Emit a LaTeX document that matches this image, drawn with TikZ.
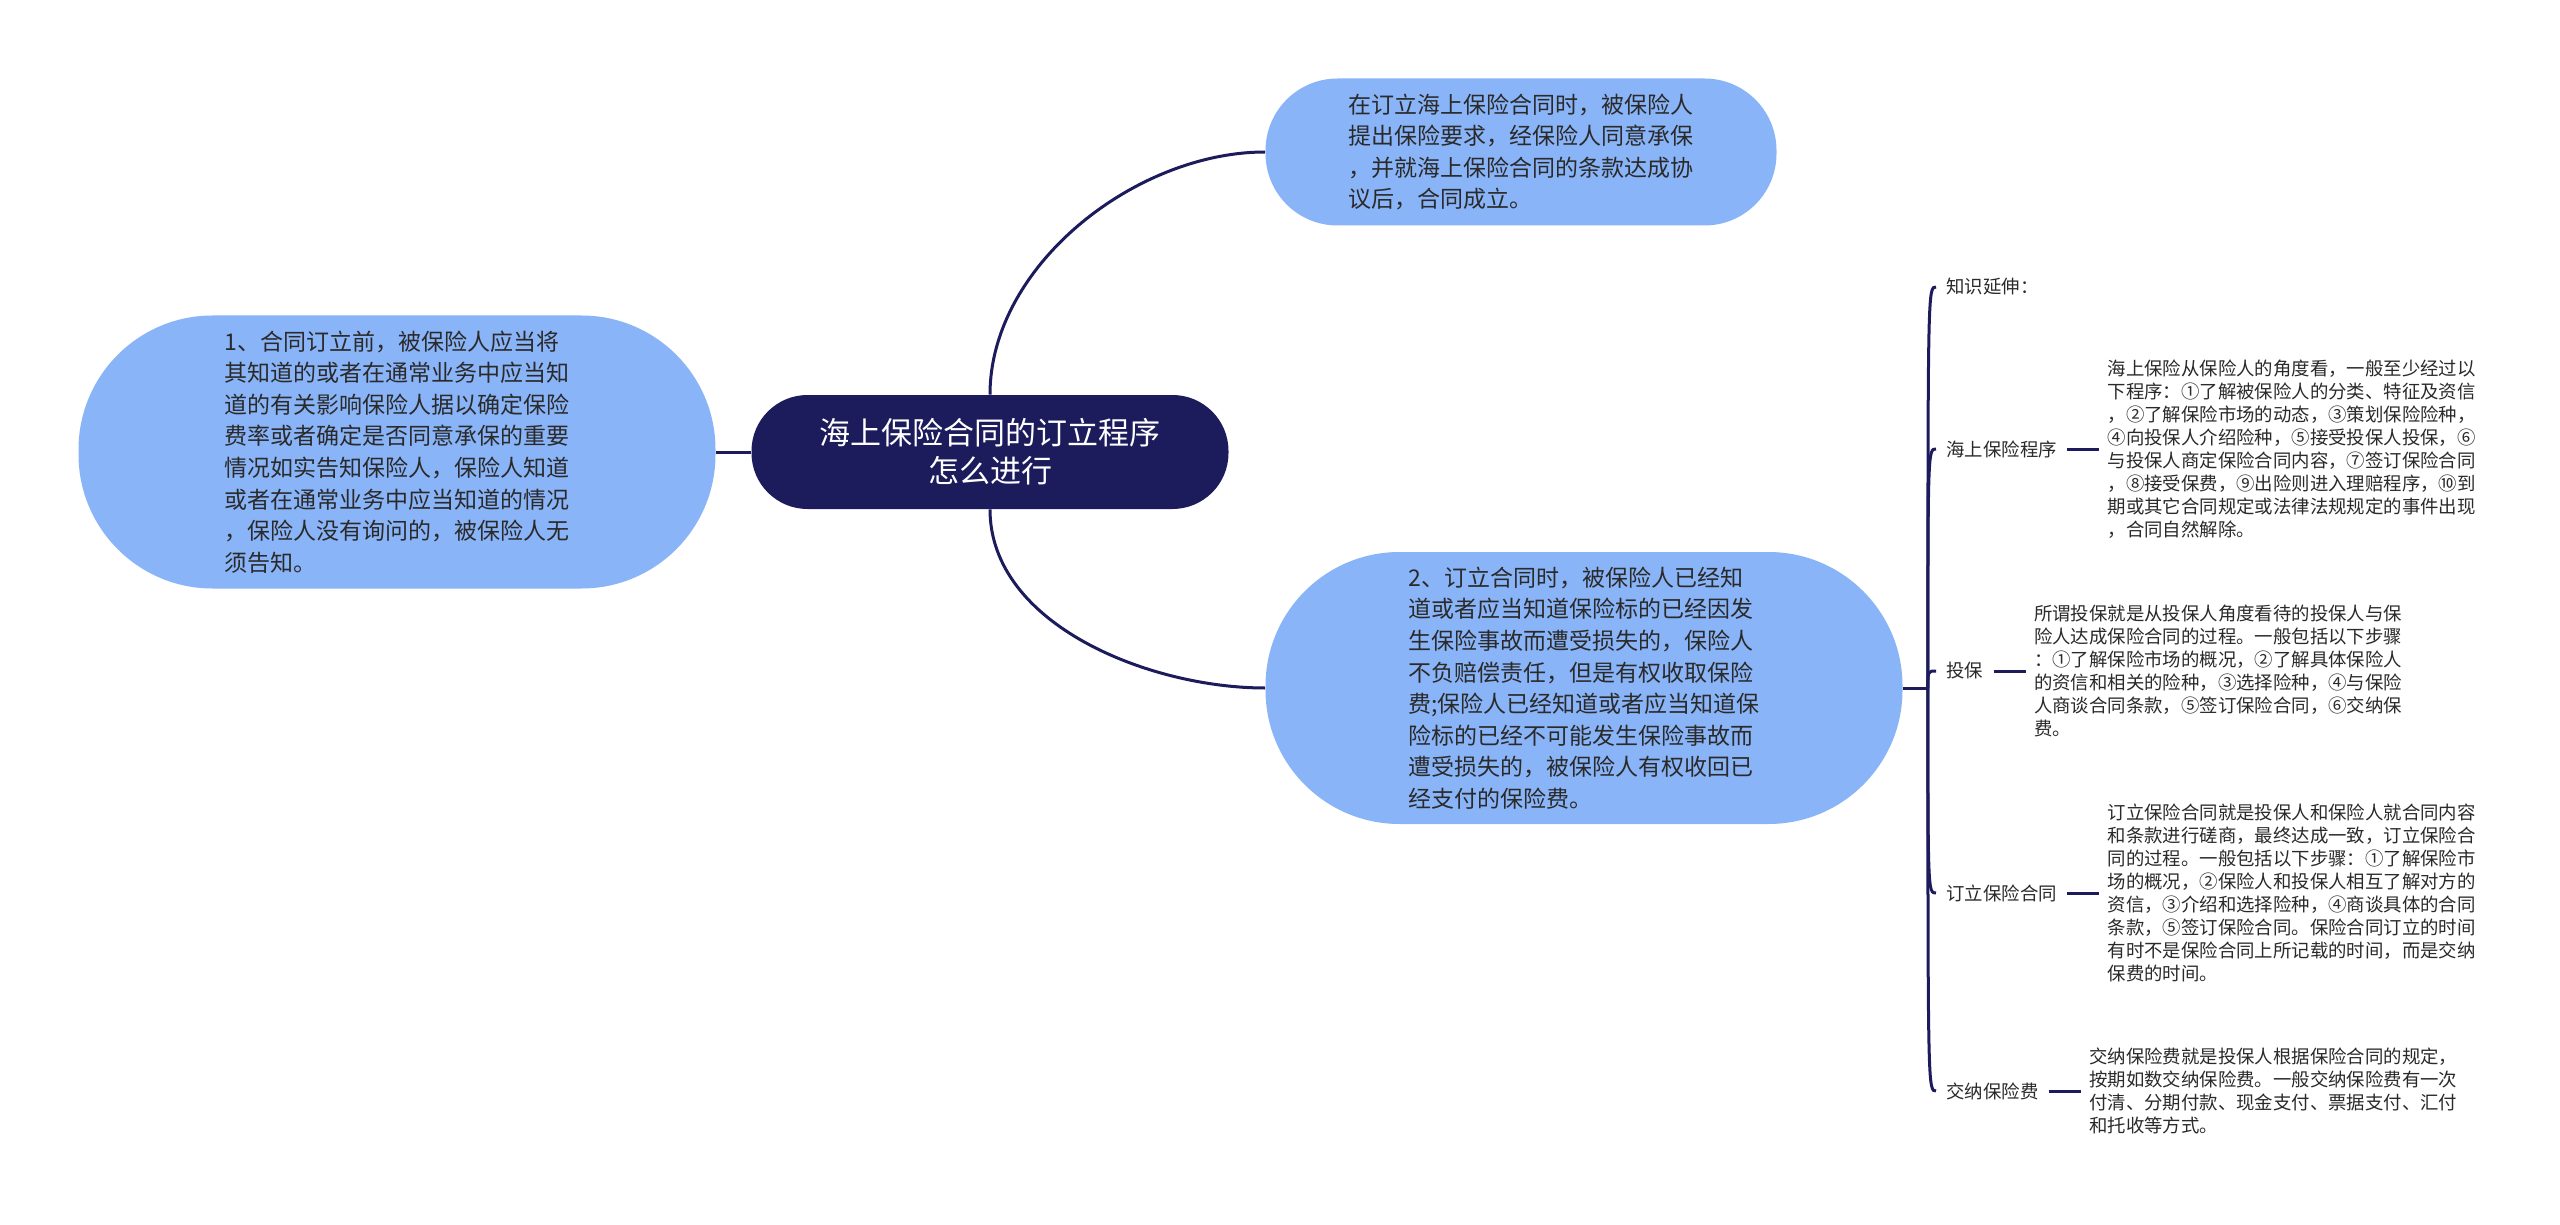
\documentclass[tikz,border=0pt]{standalone}
\usepackage{fontspec}
\setmainfont{Noto Sans CJK SC}
\usepackage{tikz}
\usetikzlibrary{calc, positioning}
\definecolor{navy}{HTML}{1C1B5B}
\definecolor{lightblue}{HTML}{8AB4F8}
\definecolor{ink}{HTML}{2A2A2A}
\tikzset{root topic/.style={fill=navy, text=white, rectangle, rounded corners=28pt, minimum width=238.5pt, minimum height=57pt, font=\fontsize{15.5}{19}\selectfont, align=center}}
\tikzset{main topic/.style={fill=lightblue, text=ink, rectangle, font=\fontsize{11.5}{15.8}\selectfont, align=left}}
\tikzset{sub topic/.style={text=ink, rectangle, font=\fontsize{9.2}{11.5}\selectfont, align=left, inner xsep=5pt, inner ysep=2pt}}
\tikzset{branch/.style={draw=navy, line width=1.5pt}}

\begin{document}
\begin{tikzpicture}[x=0.5pt, y=-0.5pt, node distance=16pt]
\fill[white] (0,0) rectangle (2560,1225);
\useasboundingbox (0,0) rectangle (2560,1225);
\node[root topic] (main) at (990,452) {海上保险合同的订立程序\\怎么进行};
\node[main topic, minimum width=318.5pt, minimum height=136.5pt, rounded corners=67pt] (pre) at (397,452) {1、合同订立前，被保险人应当将\\其知道的或者在通常业务中应当知\\道的有关影响保险人据以确定保险\\费率或者确定是否同意承保的重要\\情况如实告知保险人，保险人知道\\或者在通常业务中应当知道的情况\\，保险人没有询问的，被保险人无\\须告知。};
\node[main topic, minimum width=255.5pt, minimum height=73.5pt, rounded corners=36pt] (post) at (1521,152) {在订立海上保险合同时，被保险人\\提出保险要求，经保险人同意承保\\，并就海上保险合同的条款达成协\\议后，合同成立。};
\node[main topic, minimum width=318.5pt, minimum height=136pt, rounded corners=67pt] (cond) at (1584,688) {2、订立合同时，被保险人已经知\\道或者应当知道保险标的已经因发\\生保险事故而遭受损失的，保险人\\不负赔偿责任，但是有权收取保险\\费;保险人已经知道或者应当知道保\\险标的已经不可能发生保险事故而\\遭受损失的，被保险人有权收回已\\经支付的保险费。};
\coordinate[right=12.5pt of cond.east] (hub);
% knowledge extension
\node[sub topic, anchor=west] (ext) at (1936,287) {知识延伸：};
\node[sub topic, anchor=west] (sea) at (1936,449) {海上保险程序};
\node[sub topic, anchor=west] (tb) at (1936,671) {投保};
\node[sub topic, anchor=west] (dl) at (1936,893) {订立保险合同};
\node[sub topic, anchor=west] (jn) at (1936,1091) {交纳保险费};
\node[sub topic, right=of sea, inner xsep=4pt] (seatxt) {海上保险从保险人的角度看，一般至少经过以\\下程序：①了解被保险人的分类、特征及资信\\，②了解保险市场的动态，③策划保险险种，\\④向投保人介绍险种，⑤接受投保人投保，⑥\\与投保人商定保险合同内容，⑦签订保险合同\\，⑧接受保费，⑨出险则进入理赔程序，⑩到\\期或其它合同规定或法律法规规定的事件出现\\，合同自然解除。};
\node[sub topic, right=of tb, inner xsep=4pt] (tbtxt) {所谓投保就是从投保人角度看待的投保人与保\\险人达成保险合同的过程。一般包括以下步骤\\：①了解保险市场的概况，②了解具体保险人\\的资信和相关的险种，③选择险种，④与保险\\人商谈合同条款，⑤签订保险合同，⑥交纳保\\费。};
\node[sub topic, right=of dl, inner xsep=4pt] (dltxt) {订立保险合同就是投保人和保险人就合同内容\\和条款进行磋商，最终达成一致，订立保险合\\同的过程。一般包括以下步骤：①了解保险市\\场的概况，②保险人和投保人相互了解对方的\\资信，③介绍和选择险种，④商谈具体的合同\\条款，⑤签订保险合同。保险合同订立的时间\\有时不是保险合同上所记载的时间，而是交纳\\保费的时间。};
\node[sub topic, right=of jn, inner xsep=4pt] (jntxt) {交纳保险费就是投保人根据保险合同的规定，\\按期如数交纳保险费。一般交纳保险费有一次\\付清、分期付款、现金支付、票据支付、汇付\\和托收等方式。};
% connectors
\draw[branch] (main) -- (pre);
\draw[branch] (main.north) to[out=90, in=180, looseness=0.9] (post.west);
\draw[branch] (main.south) to[out=-90, in=180, looseness=0.9] (cond.west);
\draw[branch] (cond.east) -- (hub);
\foreach \k in {ext,sea,tb,dl,jn}
  \draw[branch] (hub) .. controls (hub |- \k.west) .. (\k.west);
\draw[branch] (sea) -- (seatxt);
\draw[branch] (tb) -- (tbtxt);
\draw[branch] (dl) -- (dltxt);
\draw[branch] (jn) -- (jntxt);
\end{tikzpicture}
\end{document}
